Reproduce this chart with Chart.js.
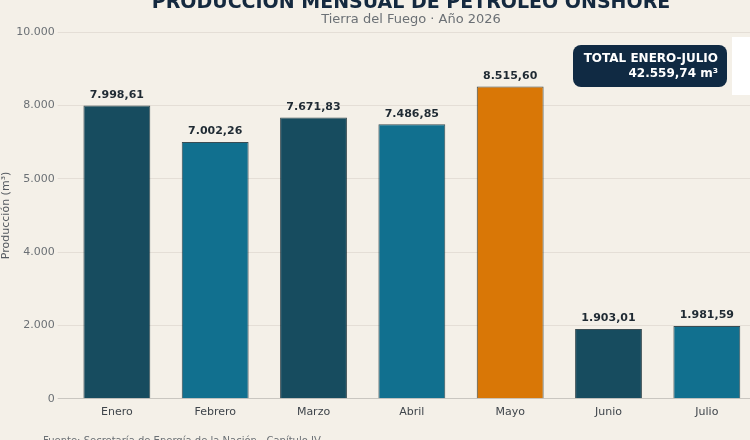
<!DOCTYPE html>
<html>
<head>
<meta charset="utf-8">
<script src="https://cdn.jsdelivr.net/npm/chart.js@4.4.1/dist/chart.umd.min.js"></script>
<style>
  html, body { margin: 0; padding: 0; background: #f4f0e8; overflow: hidden; }
  #wrap { position: relative; width: 770px; height: 440px; }
</style>
</head>
<body>
<div id="wrap"><canvas id="prodChart"></canvas></div>
<script>
// datos
const months = ['Enero', 'Febrero', 'Marzo', 'Abril', 'Mayo', 'Junio', 'Julio'];
const production = [7998.61, 7002.26, 7671.83, 7486.85, 8515.60, 1903.01, 1981.59];
const yTickLabels = ['0', '2.000', '4.000', '5.000', '8.000', '10.000'];
const totalLabel = ['TOTAL ENERO-JULIO', '42.559,74 m³'];

const barColors = ['#174c5f', '#11708f', '#174c5f', '#11708f', '#d97706', '#174c5f', '#11708f'];
const FONT = '"DejaVu Sans", sans-serif';

function fmt(v) {
  const [ent, dec] = v.toFixed(2).split('.');
  return ent.replace(/\B(?=(\d{3})+(?!\d))/g, '.') + ',' + dec;
}

// titulos, etiquetas de valor y cuadro de total
const extras = {
  id: 'extras',
  afterDatasetsDraw(chart) {
    const { ctx } = chart;
    const meta = chart.getDatasetMeta(0);
    ctx.save();
    ctx.font = 'bold 11px ' + FONT;
    ctx.fillStyle = '#1f2a33';
    ctx.textAlign = 'center';
    ctx.textBaseline = 'bottom';
    meta.data.forEach((bar, i) => {
      ctx.fillText(fmt(production[i]), bar.x, bar.y - 5);
    });
    ctx.restore();
  },
  afterDraw(chart) {
    const { ctx } = chart;
    ctx.save();
    // titulo (cortado arriba)
    ctx.textAlign = 'center';
    ctx.textBaseline = 'alphabetic';
    ctx.fillStyle = '#14293f';
    ctx.font = 'bold 19px ' + FONT;
    ctx.fillText('PRODUCCIÓN MENSUAL DE PETRÓLEO ONSHORE', 411, 8);
    ctx.fillStyle = '#6b7075';
    ctx.font = '13px ' + FONT;
    ctx.fillText('Tierra del Fuego · Año 2026', 411, 23);

    // cuadro total
    const bx = 573, by = 45, bw = 154, bh = 42;
    ctx.fillStyle = '#102a43';
    ctx.beginPath();
    ctx.roundRect(bx, by, bw, bh, 8);
    ctx.fill();
    ctx.fillStyle = '#ffffff';
    ctx.font = 'bold 12px ' + FONT;
    ctx.textAlign = 'right';
    ctx.fillText(totalLabel[0], bx + bw - 9, by + 17);
    ctx.fillText(totalLabel[1], bx + bw - 9, by + 32);

    // recuadro blanco cortado a la derecha
    ctx.fillStyle = '#ffffff';
    ctx.fillRect(732, 37, 40, 58);

    // fuente (cortada abajo)
    ctx.fillStyle = '#6b7075';
    ctx.font = '10px ' + FONT;
    ctx.textAlign = 'left';
    ctx.textBaseline = 'top';
    ctx.fillText('Fuente: Secretaría de Energía de la Nación · Capítulo IV', 43, 436);
    ctx.restore();
  }
};

const ctx = document.getElementById('prodChart').getContext('2d');
new Chart(ctx, {
  type: 'bar',
  data: {
    labels: months,
    datasets: [{
      data: production,
      backgroundColor: barColors,
      borderColor: 'rgba(10,35,45,0.8)',
      borderWidth: 1,
      barPercentage: 0.68,
      categoryPercentage: 1
    }]
  },
  options: {
    responsive: true,
    maintainAspectRatio: false,
    animation: false,
    layout: { padding: { top: 32, right: 14, bottom: 14, left: 0 } },
    scales: {
      x: {
        grid: { display: false, drawTicks: false },
        border: { display: false },
        ticks: { color: '#3f454b', font: { family: FONT, size: 11 }, padding: 7 }
      },
      y: {
        min: 0,
        max: 10000,
        ticks: {
          stepSize: 2000,
          color: '#6b7075',
          font: { family: FONT, size: 11 },
          padding: 3,
          callback: (value, index) => yTickLabels[index]
        },
        grid: {
          color: ctx => ctx.tick && ctx.tick.value === 0 ? '#c9c6c0' : '#e4ded6',
          lineWidth: 1,
          tickLength: 10
        },
        border: { display: false },
        title: {
          display: true,
          text: 'Producción (m³)',
          color: '#555a60',
          font: { family: FONT, size: 11 },
          padding: { top: 0, bottom: 0 }
        }
      }
    },
    plugins: {
      legend: { display: false },
      tooltip: { enabled: false }
    }
  },
  plugins: [extras]
});
</script>
</body>
</html>
